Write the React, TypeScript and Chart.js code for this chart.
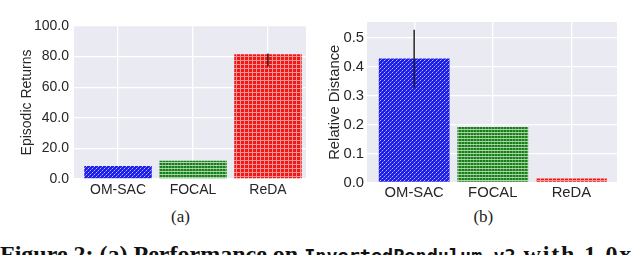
import React, { useEffect, useRef } from "react";
import { Chart, registerables } from "chart.js";
Chart.register(...registerables);

const categories = ["OM-SAC", "FOCAL", "ReDA"];
const returnsValues = [8.5, 12.0, 81.5];
const returnsErrLow = [null, null, 73.5];
const returnsErrHigh = [null, null, 82.0];
const returnsTicks = [0, 20, 40, 60, 80, 100];
const distanceValues = [0.428, 0.192, 0.014];
const distanceErrLow = [0.327, null, null];
const distanceErrHigh = [0.527, null, null];
const distanceTicks = [0, 0.1, 0.2, 0.3, 0.4, 0.5];

const TEXT = "#262626";
const SANS = "'Liberation Sans', Arial, sans-serif";

function makePattern(kind: string): CanvasPattern | string {
  const c = document.createElement("canvas");
  const ctx = c.getContext("2d");
  if (!ctx) return "gray";
  if (kind === "blue") {
    c.width = 4; c.height = 4;
    ctx.fillStyle = "rgb(30,30,235)";
    ctx.fillRect(0, 0, 4, 4);
    ctx.fillStyle = "rgba(255,255,255,0.7)";
    ctx.fillRect(0, 0, 1, 1);
    ctx.fillRect(2, 2, 1, 1);
    ctx.fillStyle = "rgba(255,255,255,0.3)";
    ctx.fillRect(1, 3, 1, 1);
    ctx.fillRect(3, 1, 1, 1);
  } else if (kind === "green") {
    c.width = 3; c.height = 3;
    ctx.fillStyle = "rgb(22,128,22)";
    ctx.fillRect(0, 0, 3, 3);
    ctx.fillStyle = "rgba(255,255,255,0.65)";
    ctx.fillRect(0, 0, 3, 1);
    ctx.fillStyle = "rgba(255,255,255,0.3)";
    ctx.fillRect(0, 1, 1, 2);
  } else {
    c.width = 4; c.height = 4;
    ctx.fillStyle = "rgb(238,22,22)";
    ctx.fillRect(0, 0, 4, 4);
    ctx.fillStyle = "rgba(255,255,255,0.55)";
    ctx.fillRect(0, 0, 4, 1);
    ctx.fillRect(0, 1, 1, 3);
  }
  const p = ctx.createPattern(c, "repeat");
  return p || "gray";
}

const bgPlugin = {
  id: "bgPlot",
  beforeDraw(chart: any) {
    const { ctx, chartArea: a } = chart;
    ctx.save();
    ctx.fillStyle = "#EAEAF2";
    ctx.fillRect(a.left, a.top, a.right - a.left, a.bottom - a.top);
    ctx.restore();
  },
};

const errPlugin = {
  id: "errBars",
  afterDatasetsDraw(chart: any) {
    const opts = chart.options.plugins.errBars;
    if (!opts) return;
    const { ctx } = chart;
    const xs = chart.scales.x;
    const ys = chart.scales.y;
    ctx.save();
    ctx.strokeStyle = "rgba(25,25,25,0.95)";
    ctx.lineWidth = 1.5;
    opts.low.forEach((lo: number | null, i: number) => {
      const hi = opts.high[i];
      if (lo == null || hi == null) return;
      const x = xs.getPixelForValue(i);
      ctx.beginPath();
      ctx.moveTo(x, ys.getPixelForValue(lo));
      ctx.lineTo(x, ys.getPixelForValue(hi));
      ctx.stroke();
    });
    ctx.restore();
  },
};

type Cfg = {
  values: number[];
  low: (number | null)[];
  high: (number | null)[];
  ticks: number[];
  yMax: number;
  yTitle: string;
  xMin: number;
  xMax: number;
  yAxisWidth: number;
  xAxisHeight: number;
  padding: { left: number; top: number; right: number; bottom: number };
  titlePad: number;
  yTickPad: number;
  xTickPad: number;
  fontSize: number;
};

function BarPanel({ cfg, left }: { cfg: Cfg; left: number }) {
  const ref = useRef<HTMLCanvasElement>(null);
  useEffect(() => {
    if (!ref.current) return;
    const colors = [makePattern("blue"), makePattern("green"), makePattern("red")];
    const font = { family: SANS, size: cfg.fontSize, lineHeight: 1.2 };
    const chart = new Chart(ref.current, {
      type: "bar",
      data: {
        datasets: [
          {
            data: cfg.values.map((v, i) => ({ x: i, y: v })) as any,
            backgroundColor: colors as any,
            borderWidth: 0,
            barPercentage: 0.9,
            categoryPercentage: 1,
          },
        ],
      },
      options: {
        animation: false,
        responsive: false,
        devicePixelRatio: 1,
        layout: { padding: cfg.padding },
        plugins: {
          legend: { display: false },
          tooltip: { enabled: false },
          errBars: { low: cfg.low, high: cfg.high },
        } as any,
        scales: {
          x: {
            type: "linear",
            min: cfg.xMin,
            max: cfg.xMax,
            offset: false,
            bounds: "data",
            afterBuildTicks: (s: any) => {
              s.ticks = categories.map((_, i) => ({ value: i }));
            },
            afterFit: (s: any) => {
              s.height = cfg.xAxisHeight;
            },
            ticks: {
              autoSkip: false,
              maxRotation: 0,
              padding: cfg.xTickPad,
              color: TEXT,
              font,
              callback: (v: any) => categories[Math.round(Number(v))] ?? "",
            },
            grid: { color: "#FFFFFF", lineWidth: 1.3, drawTicks: false, offset: false },
            border: { display: false },
          },
          y: {
            type: "linear",
            min: 0,
            max: cfg.yMax,
            afterBuildTicks: (s: any) => {
              s.ticks = cfg.ticks.map((v) => ({ value: v }));
            },
            afterFit: (s: any) => {
              s.width = cfg.yAxisWidth;
            },
            ticks: {
              padding: cfg.yTickPad,
              color: TEXT,
              font,
              callback: (v: any) => Number(v).toFixed(1),
            },
            grid: { color: "#FFFFFF", lineWidth: 1.3, drawTicks: false },
            border: { display: false },
            title: {
              display: true,
              text: cfg.yTitle,
              color: TEXT,
              font: { family: SANS, size: cfg.fontSize, lineHeight: 1 },
              padding: { top: cfg.titlePad, bottom: 0 },
            },
          },
        },
      },
      plugins: [bgPlugin, errPlugin],
    });
    return () => chart.destroy();
  }, [cfg]);
  return (
    <canvas
      ref={ref}
      width={320}
      height={200}
      style={{ position: "absolute", left, top: 0, width: 320, height: 200 }}
    />
  );
}

const cfgA: Cfg = {
  values: returnsValues,
  low: returnsErrLow,
  high: returnsErrHigh,
  ticks: returnsTicks,
  yMax: 100,
  yTitle: "Episodic Returns",
  xMin: -0.587,
  xMax: 2.507,
  yAxisWidth: 74,
  xAxisHeight: 21,
  padding: { left: 0, top: 26, right: 14, bottom: 0 },
  titlePad: 20,
  yTickPad: 5,
  xTickPad: 3,
  fontSize: 14,
};

const cfgB: Cfg = {
  values: distanceValues,
  low: distanceErrLow,
  high: distanceErrHigh,
  ticks: distanceTicks,
  yMax: 0.554,
  yTitle: "Relative Distance",
  xMin: -0.6,
  xMax: 2.58,
  yAxisWidth: 47,
  xAxisHeight: 17.5,
  padding: { left: 0, top: 22, right: 23, bottom: 0 },
  titlePad: 7.6,
  yTickPad: 3,
  xTickPad: 1.5,
  fontSize: 14.8,
};

export default function App() {
  const cap: React.CSSProperties = {
    position: "absolute",
    top: 207.5,
    fontFamily: "'Liberation Serif', 'Times New Roman', serif",
    fontSize: 17,
    lineHeight: "17px",
    color: "#222",
    transform: "translateX(-50%)",
    whiteSpace: "nowrap",
  };
  return (
    <div
      style={{
        position: "absolute",
        left: 0,
        top: 0,
        width: 640,
        height: 255,
        background: "#fff",
        overflow: "hidden",
      }}
    >
      <BarPanel cfg={cfgA} left={0} />
      <BarPanel cfg={cfgB} left={320} />
      <div style={{ ...cap, left: 180.5 }}>(a)</div>
      <div style={{ ...cap, left: 483.3 }}>(b)</div>
      <div
        style={{
          position: "absolute",
          left: 0,
          top: 241.8,
          whiteSpace: "nowrap",
          fontFamily: "'Liberation Serif', 'Times New Roman', serif",
          fontWeight: "bold",
          fontSize: 24,
          lineHeight: "24px",
          color: "#111",
        }}
      >
        Figure 2: (a) Performance on{" "}
        <span
          style={{
            fontFamily: "'DejaVu Sans Mono', 'Liberation Mono'",
            fontWeight: "bold",
            fontSize: "18.5px",
          }}
        >
          InvertedPendulum-v2
        </span>
        <span style={{ letterSpacing: 1.8 }}> with 1.0x</span>
      </div>
    </div>
  );
}
